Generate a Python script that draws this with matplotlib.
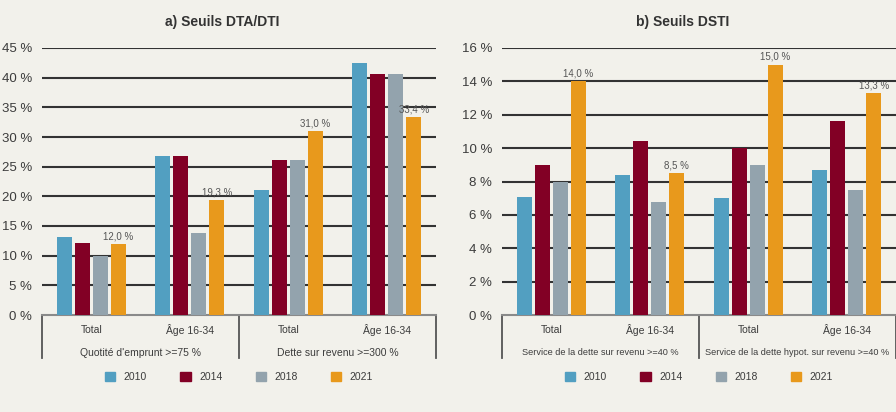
import matplotlib.pyplot as plt
from matplotlib.patches import Patch

plt.rcParams['font.family'] = ['Liberation Sans', 'DejaVu Sans']

years = ["2010", "2014", "2018", "2021"]
colors = ["#529fc1", "#820025", "#93a3ad", "#e8991c"]

cats = ["Total", "Âge 16-34", "Total", "Âge 16-34"]

# a) Seuils DTA/DTI
groups_a = ["Quotité d'emprunt >=75 %", "Dette sur revenu >=300 %"]
vals_a = {
    "2010": [13.2, 26.8, 21.1, 42.5],
    "2014": [12.1, 26.8, 26.1, 40.6],
    "2018": [10.0, 13.8, 26.1, 40.6],
    "2021": [12.0, 19.3, 31.0, 33.4],
}

# b) Seuils DSTI
groups_b = ["Service de la dette sur revenu >=40 %",
            "Service de la dette hypot. sur revenu >=40 %"]
vals_b = {
    "2010": [7.1, 8.4, 7.0, 8.7],
    "2014": [9.0, 10.4, 10.0, 11.6],
    "2018": [8.0, 6.8, 9.0, 7.5],
    "2021": [14.0, 8.5, 15.0, 13.3],
}

bg = "#f2f1eb"
txt = "#3c3c3c"

fig = plt.figure(figsize=(8.96, 4.12), dpi=100, facecolor=bg)


def panel(rect, title, vals, groups, ymax, ystep, gsize):
    ax = fig.add_axes(rect, facecolor=bg)
    width = 0.152
    pitch = 0.183
    x = list(range(len(cats)))
    for i, y in enumerate(years):
        off = (i - 1.5) * pitch
        bars = ax.bar([v + off for v in x], vals[y], width=width,
                      color=colors[i], zorder=3)
        if y == "2021":
            ax.bar_label(bars, labels=[f"{v:.1f} %".replace(".", ",") for v in vals[y]],
                         padding=2, fontsize=7, color="#555555")
    ax.set_xlim(-0.5, len(cats) - 0.5)
    ax.set_ylim(0, ymax)
    ticks = list(range(0, ymax + 1, ystep))
    ax.set_yticks(ticks)
    ax.set_yticklabels([f"{t} %" for t in ticks], fontsize=9.5, color=txt)
    ax.tick_params(axis="y", length=0, pad=7)
    ax.set_xticks([])
    for s in ["left", "right", "top"]:
        ax.spines[s].set_visible(False)
    ax.spines["bottom"].set_color("#8a8a8a")
    ax.spines["bottom"].set_linewidth(1.5)
    for t in ticks[1:]:
        ax.axhline(t, color="#333333", lw=1.5, zorder=1)
    tr = ax.get_xaxis_transform()
    for i, c in enumerate(cats):
        ax.text(i, -0.056, c, transform=tr, ha="center", va="center",
                fontsize=7.5, color=txt)
    for j, g in enumerate(groups):
        ax.text(0.5 + 2 * j, -0.142, g, transform=tr, ha="center", va="center",
                fontsize=gsize, color=txt)
    for xs in [-0.5, 1.5, 3.5]:
        ax.plot([xs, xs], [0, -0.161], transform=tr, color="#555555",
                lw=1.3, clip_on=False)
    ax.set_title(title, fontsize=10, fontweight="bold", color="#333333",
                 pad=16, x=0.458)
    handles = [Patch(color=c, label=y) for c, y in zip(colors, years)]
    ax.legend(handles=handles, loc="center", bbox_to_anchor=(0.5, -0.232),
              ncol=4, frameon=False, fontsize=7.5, handlelength=1.0,
              handleheight=1.0, handletextpad=0.8, columnspacing=3.2,
              labelcolor=txt)
    return ax


panel([42 / 896, 97 / 412, 394 / 896, 267 / 412], "a) Seuils DTA/DTI",
      vals_a, groups_a, 45, 5, 7.5)
panel([502 / 896, 97 / 412, 394 / 896, 267 / 412], "b) Seuils DSTI",
      vals_b, groups_b, 16, 2, 6.6)

fig.savefig("out.png", dpi=100, facecolor=bg)
